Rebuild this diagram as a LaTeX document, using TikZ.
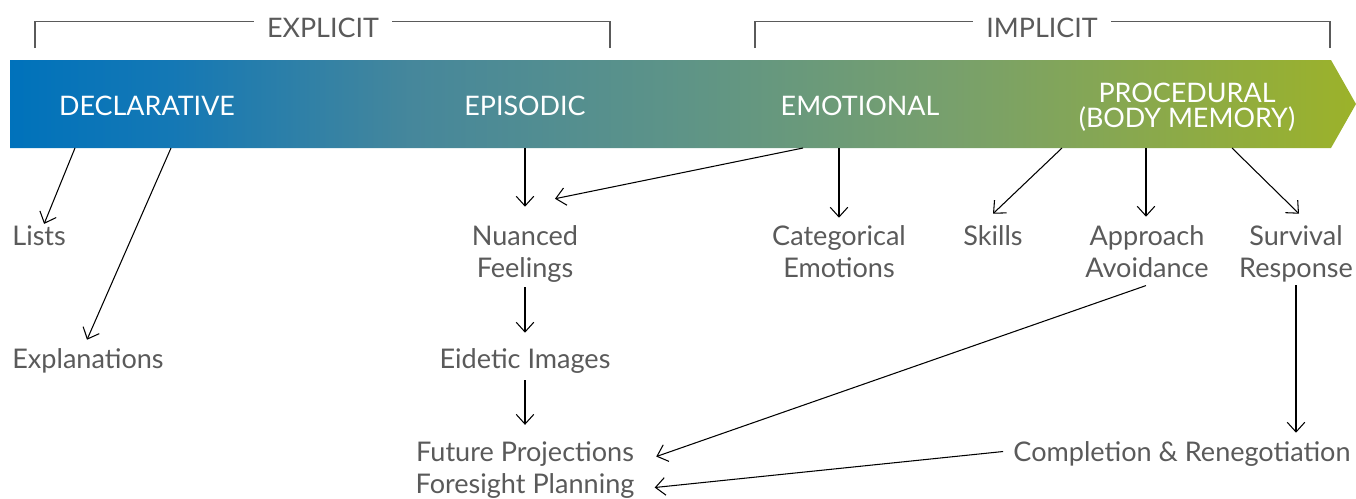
\documentclass[tikz,border=0pt]{standalone}
\usepackage{fontspec}
\setmainfont{Lato}
\usetikzlibrary{arrows.meta,calc}
\definecolor{txt}{HTML}{5A5A5A}
\definecolor{gA}{HTML}{0072BB}
\definecolor{gB}{HTML}{1478B5}
\definecolor{gC}{HTML}{46879B}
\definecolor{gD}{HTML}{5E9487}
\definecolor{gE}{HTML}{78A06C}
\definecolor{gF}{HTML}{9CB22A}
\pgfdeclarehorizontalshading{bandshade}{100bp}{color(0bp)=(gA); color(25bp)=(gA); color(31bp)=(gB); color(40bp)=(gC); color(50bp)=(gD); color(60bp)=(gE); color(75bp)=(gF); color(100bp)=(gF)}
\tikzset{
  lbl/.style={font=\fontsize{15.4}{18}\selectfont, text=txt, inner sep=0pt, anchor=base},
  ban/.style={font=\fontsize{15.3}{18}\selectfont, text=white, inner sep=0pt, anchor=base},
  arr/.style={-{Straight Barb[length=5.5pt,width=10pt]}, line width=0.6pt, draw=black},
  brk/.style={draw=txt, line width=0.6pt},
  head/.style={font=\fontsize{15.3}{18}\selectfont, text=txt, inner sep=0pt, anchor=base}
}
\begin{document}
\begin{tikzpicture}[x=0.02cm,y=-0.02cm]
\useasboundingbox (0,0) rectangle (1356,498);
% banner
\shade[shading=bandshade] (10,60) -- (1331,60) -- (1356,104) -- (1331,148) -- (10,148) -- cycle;
% headings
\node[head] (ex) at (323,37) {EXPLICIT};
\node[head] (im) at (1042,37) {IMPLICIT};
\draw[brk] (35,48) |- ($(ex.west)+(-13,-6)$);
\draw[brk] (610,48) |- ($(ex.east)+(13,-6)$);
\draw[brk] (755,48) |- ($(im.west)+(-13,-6)$);
\draw[brk] (1330,48) |- ($(im.east)+(13,-6)$);
% banner labels
\node[ban] (decl) at (147,115) {DECLARATIVE};
\node[ban] (epi) at (525,115) {EPISODIC};
\node[ban] (emo) at (860,115) {EMOTIONAL};
\node[ban] (proc1) at (1187,102) {PROCEDURAL};
\node[ban] (proc2) at (1187,127) {(BODY MEMORY)};
% banner bottom points
\coordinate (b1) at (75,148);
\coordinate (b2) at (171,148);
\coordinate (b3) at (525,148);
\coordinate (b4) at (803,148);
\coordinate (b5) at (839,148);
\coordinate (b6) at (1062,148);
\coordinate (b7) at (1146,148);
\coordinate (b8) at (1232,148);
% labels
\node[lbl, anchor=base west] (lists) at (12,245) {Lists};
\node[lbl, anchor=base west] (expl) at (12,368) {Explanations};
\node[lbl] (nf1) at (525,245) {Nuanced};
\node[lbl] (nf2) at (525,277) {Feelings};
\node[lbl] (eid) at (525,368) {Eidetic Images};
\node[lbl] (fut1) at (525,461) {Future Projections};
\node[lbl] (fut2) at (525,493) {Foresight Planning};
\node[lbl] (cat1) at (839,245) {Categorical};
\node[lbl] (cat2) at (839,277) {Emotions};
\node[lbl] (skills) at (993,245) {Skills};
\node[lbl] (app1) at (1147,245) {Approach};
\node[lbl] (app2) at (1147,277) {Avoidance};
\node[lbl] (sur1) at (1296,245) {Survival};
\node[lbl] (sur2) at (1296,277) {Response};
\node[lbl] (comp) at (1182,461) {Completion \& Renegotiation};
% connectors
\draw[arr] (b1) -- ($(lists.north)+(5,-1)$);
\draw[arr] (b2) -- ($(expl.north)+(-1,-8)$);
\draw[arr] (b3) -- ($(nf1.north)+(0,-18)$);
\draw[arr] (b4) -- ($(nf1.north)+(30,-26)$);
\draw[arr] (b5) -- ($(cat1.north)+(0,-7)$);
\draw[arr] (b6) -- ($(skills.north)+(0,-11)$);
\draw[arr] (b7) -- ($(app1.north)+(-1,-8)$);
\draw[arr] (b8) -- ($(sur1.north)+(3,-11)$);
\draw[arr] ($(nf2.south)+(0,5)$) -- ($(eid.north)+(0,-15)$);
\draw[arr] ($(eid.south)+(0,7)$) -- ($(fut1.north)+(0,-16)$);
\draw[arr] ($(app2.south)+(-1,8)$) -- ($(fut1.east)+(22,3)$);
\draw[arr] ($(sur2.south)+(0,3)$) -- ($(sur2.south |- comp.north)+(0,-8)$);
\draw[arr] ($(comp.west)+(-10,-2)$) -- ($(fut2.east)+(20,2)$);
\end{tikzpicture}
\end{document}
